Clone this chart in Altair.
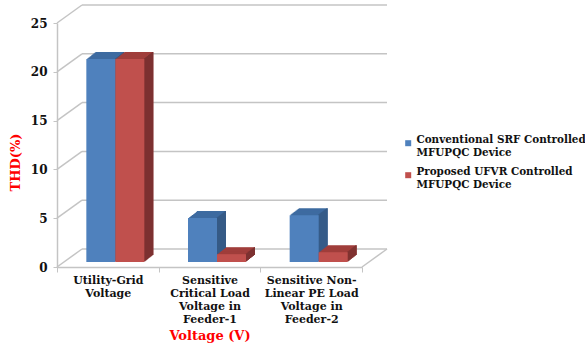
import altair as alt
import pandas as pd

# ---------------- data ----------------
categories = [
    "Utility-Grid|Voltage",
    "Sensitive|Critical Load|Voltage in|Feeder-1",
    "Sensitive Non-|Linear PE Load|Voltage in|Feeder-2",
]
series_names = [
    "Conventional SRF Controlled|MFUPQC Device",
    "Proposed UFVR Controlled|MFUPQC Device",
]
conventional = [20.8, 4.5, 4.8]
proposed = [20.8, 0.8, 1.0]
y_ticks = [0, 5, 10, 15, 20, 25]

rows = []
for c, a, b in zip(categories, conventional, proposed):
    rows.append({"cat": c, "series": series_names[0], "thd": a})
    rows.append({"cat": c, "series": series_names[1], "thd": b})
df = pd.DataFrame(rows)
grid_df = pd.DataFrame({"thd": y_ticks})

# ---------------- style ----------------
FONT = "DejaVu Serif"
W, H = 305, 244
WALL_DX, WALL_DY = 25, -18
BAR_DX, BAR_DY = 7.5, -5
BAR_W = 29
EXT_DX, EXT_DY, STEPS = 9, -7, 9
GRID = "#c4c4c4"
colors = {
    series_names[0]: ("#4f81bd", "#3e6ba1", "#355a86"),
    series_names[1]: ("#c0504d", "#a03e3b", "#7c3130"),
}

y_scale = alt.Scale(domain=[0, 25], nice=False, zero=True)
y_axis = alt.Axis(
    values=y_ticks, grid=False, title="THD(%)", titleColor="#ff0000",
    titleFont=FONT, titleFontSize=13, titleFontWeight="bold",
    titleAngle=270, titleX=-42, titleY=139, titleBaseline="middle", titleAlign="center",
    labelFont=FONT, labelFontSize=12, labelFontWeight="bold", labelColor="#111111",
    labelPadding=6, tickSize=4, tickColor=GRID, domainColor=GRID, domainWidth=1.5,
)
x_axis = alt.Axis(
    title="Voltage (V)", titleColor="#ff0000", titleFont=FONT, titleFontSize=13,
    titleFontWeight="bold", titleY=68, titleBaseline="middle",
    labelExpr="split(datum.label, '|')", labelAngle=0, labelFont=FONT,
    labelFontSize=11, labelFontWeight="bold", labelLineHeight=13.3,
    labelColor="#111111", labelBaseline="top", labelPadding=2,
    tickBand="extent", tickSize=5, tickColor=GRID, domainColor=GRID, domainWidth=1.5,
)
X = alt.X("cat:N", sort=categories, scale=alt.Scale(paddingInner=0, paddingOuter=0), axis=x_axis)
Y = alt.Y("thd:Q", scale=y_scale, axis=y_axis)

legend = alt.Legend(
    orient="none", legendX=346, legendY=115, title=None, padding=0,
    symbolType="square", symbolSize=36, symbolStrokeWidth=0,
    labelExpr="split(datum.label, '|')", labelFont=FONT, labelFontSize=10.4,
    labelFontWeight="bold", labelColor="#111111", labelLimit=400,
    labelBaseline="alphabetic", labelOffset=3, rowPadding=9,
)
C = alt.Color("series:N", sort=series_names,
              scale=alt.Scale(domain=series_names, range=[colors[s][0] for s in series_names]),
              legend=legend)

layers = []
base = alt.Chart(grid_df)
# back wall gridlines
layers.append(base.mark_rule(color=GRID, strokeWidth=1.5, yOffset=WALL_DY).encode(
    x=alt.value(WALL_DX), x2=alt.value(W + WALL_DX), y=Y))
# left diagonals
layers.append(base.mark_rule(color=GRID, strokeWidth=1.5, y2Offset=WALL_DY).encode(
    x=alt.value(0), x2=alt.value(WALL_DX), y=Y, y2=alt.Y2("thd:Q")))
# right floor diagonal
layers.append(base.transform_filter("datum.thd == 0").mark_rule(
    color=GRID, strokeWidth=1.5, y2Offset=WALL_DY).encode(
    x=alt.value(W), x2=alt.value(W + WALL_DX), y=Y, y2=alt.Y2("thd:Q")))

bar_base = alt.Chart(df)
for i, s in enumerate(series_names):
    front, top, side = colors[s]
    off = BAR_DX - BAR_W / 2 if i == 0 else BAR_DX + BAR_W / 2
    sd = bar_base.transform_filter(alt.datum.series == s)
    for k in range(STEPS, 0, -1):
        dx = EXT_DX * k / STEPS
        dy = BAR_DY + EXT_DY * k / STEPS
        layers.append(sd.mark_bar(width=BAR_W, xOffset=off + dx, yOffset=dy, y2Offset=dy,
                                  color=top).encode(x=X, y=Y, y2=alt.datum(0)))
    for k in range(STEPS, 0, -1):
        dx = EXT_DX * k / STEPS
        dy = BAR_DY + EXT_DY * k / STEPS
        layers.append(sd.mark_bar(width=1.3, xOffset=off + BAR_W / 2 + dx - 0.65,
                                  yOffset=dy, y2Offset=dy, color=side).encode(
            x=X, y=Y, y2=alt.datum(0)))
    layers.append(sd.mark_bar(width=BAR_W, xOffset=off, yOffset=BAR_DY, y2Offset=BAR_DY).encode(
        x=X, y=Y, y2=alt.datum(0), color=C))

chart = alt.layer(*layers).properties(
    width=W, height=H,
    autosize=alt.AutoSizeParams(type="none"),
    padding={"left": 57, "top": 23, "right": 585 - 57 - W, "bottom": 347 - 23 - H},
    background="white",
).configure_view(stroke=None)

chart.save("out.html", embed_options={"renderer": "svg", "actions": False})
